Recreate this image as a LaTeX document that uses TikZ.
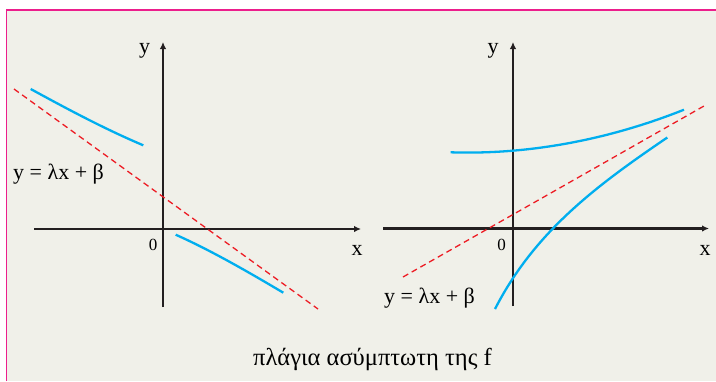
\documentclass[tikz,border=0pt]{standalone}
\usepackage{fontspec}
\setmainfont{Liberation Serif}
\usetikzlibrary{arrows.meta}
\definecolor{paper}{RGB}{240,240,233}
\definecolor{frame}{RGB}{236,30,140}
\definecolor{curve}{RGB}{0,174,239}
\definecolor{asym}{RGB}{237,28,36}
\definecolor{axiscol}{RGB}{35,31,32}
\tikzset{
  axis/.style={draw=axiscol,line width=2.2pt,-{Latex[length=7pt,width=6.5pt]}},
  graph/.style={draw=curve,line width=2.3pt},
  asymptote/.style={draw=asym,line width=1.3pt,dash pattern=on 6pt off 4pt},
  lbl/.style={font=\fontsize{22}{24}\selectfont,inner sep=0pt,anchor=base},
  zero/.style={font=\fontsize{17}{19}\selectfont,inner sep=0pt,anchor=base}
}
\begin{document}
\begin{tikzpicture}[x=1pt,y=-1pt]
    \useasboundingbox (0,0) rectangle (716,381);
    \fill [paper] (7,10) rectangle (716,381);
    \draw [frame,line width=1.6pt] (6.5,381) -- (6.5,9.7) -- (716,9.7);
    % left graph
    \draw [axis] (34,229) -- (361,229);
    \draw [axis] (163,307) -- (163,42);
    \node [lbl] (x1) at (357,255) {x};
    \node [lbl] (y1) at (144.5,53) {y};
    \node [zero] (o1) at (153,250) {0};
    \draw [asymptote] (14,89) -- (318,309);
    \draw [graph] (30.7,89) .. controls (68.2,109.5) and (105.8,129.5) .. (143.3,145.3);
    \draw [graph] (175.7,234.7) .. controls (211.5,250.7) and (247.5,271.5) .. (283.3,292.7);
    \node [lbl,anchor=base west] (eq1) at (13,179) {y = λx + β};
    % right graph
    \draw [axis] (383,228.5) -- (709,228.5);
    \draw [axis] (513,306) -- (513,42);
    \node [lbl] (x2) at (705,255) {x};
    \node [lbl] (y2) at (493,53) {y};
    \node [zero] (o2) at (501.7,250) {0};
    \draw [asymptote] (403,277) -- (704,106);
    \draw [graph] (450.7,152.3) .. controls (533,155) and (613,138) .. (684,109.7);
    \draw [graph] (495,309) .. controls (535,231) and (597.3,185.1) .. (667.3,137.5);
    \node [lbl,anchor=base west] (eq2) at (384,303) {y = λx + β};
    \node [font=\fontsize{24.5}{27}\selectfont,inner sep=0pt,anchor=base] (cap) at (372.5,365) {πλάγια ασύμπτωτη της f};
\end{tikzpicture}
\end{document}
